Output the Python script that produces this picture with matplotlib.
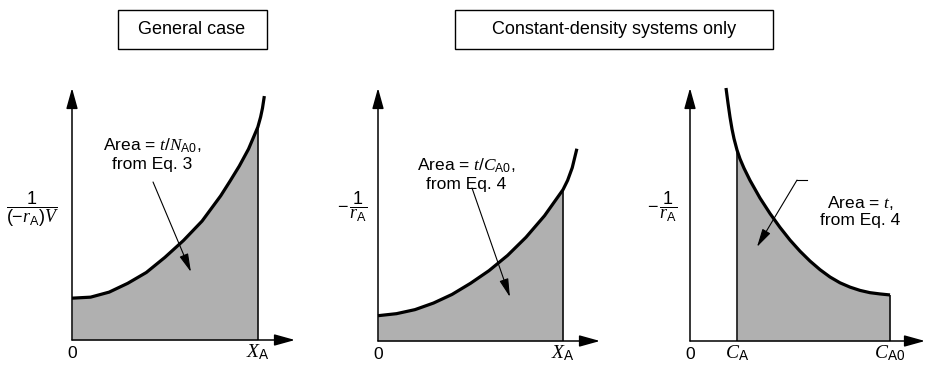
import matplotlib.pyplot as plt
from matplotlib.patches import Rectangle

plt.rcParams['font.family'] = ['Liberation Sans', 'DejaVu Sans']
plt.rcParams['mathtext.fontset'] = 'custom'
plt.rcParams['mathtext.rm'] = 'Liberation Sans'
plt.rcParams['mathtext.it'] = 'Liberation Serif:italic'
plt.rcParams['mathtext.bf'] = 'Liberation Sans:bold'

# Curve points
x_general = [0, 0.1, 0.2, 0.3, 0.4, 0.5, 0.6, 0.7, 0.8, 0.85, 0.9, 0.95, 1.0, 1.015, 1.025, 1.035]
y_general = [0.166, 0.17, 0.19, 0.225, 0.268, 0.328, 0.395, 0.472, 0.572, 0.63, 0.69, 0.758, 0.845,
             0.885, 0.92, 0.968]
xa_general = 1.0

x_const = [0, 0.1, 0.2, 0.3, 0.4, 0.5, 0.6, 0.7, 0.8, 0.9, 1.0, 1.025, 1.05, 1.075]
y_const = [0.1, 0.108, 0.124, 0.15, 0.184, 0.228, 0.278, 0.338, 0.41, 0.495, 0.598, 0.635, 0.685, 0.76]
xa_const = 1.0

x_conc = [0.18, 0.19, 0.2, 0.21, 0.22, 0.235, 0.25, 0.27, 0.3, 0.35, 0.4, 0.45, 0.5, 0.55, 0.6,
          0.65, 0.7, 0.75, 0.8, 0.85, 0.9, 0.95, 1.0]
y_conc = [1.0, 0.94, 0.885, 0.838, 0.8, 0.755, 0.72, 0.683, 0.635, 0.565, 0.504, 0.449, 0.399,
          0.355, 0.316, 0.282, 0.253, 0.23, 0.213, 0.2, 0.191, 0.186, 0.182]
ca_conc = 0.235
ca0_conc = 1.0

fill_color = '#b0b0b0'
fs_text = 12.5
fs_sym = 14
base_y = -0.07  # baseline of the x-axis labels

fig = plt.figure(figsize=(9.3, 3.68), dpi=100)

# Header boxes
fig.add_artist(Rectangle((118 / 930, 1 - 49 / 368), 149 / 930, 39 / 368,
                         transform=fig.transFigure, fill=False, lw=1.0, ec='black'))
fig.text(192 / 930, 1 - 30 / 368, 'General case', ha='center', va='center', fontsize=13)
fig.add_artist(Rectangle((455 / 930, 1 - 49 / 368), 318 / 930, 39 / 368,
                         transform=fig.transFigure, fill=False, lw=1.0, ec='black'))
fig.text(614 / 930, 1 - 30 / 368, 'Constant-density systems only', ha='center', va='center', fontsize=13)


def draw_axes(ax, xmax):
    ax.set_xlim(0, xmax)
    ax.set_ylim(0, 1)
    ax.axis('off')
    arrow = dict(arrowstyle='-|>,head_length=0.9,head_width=0.25', color='black', lw=1.1,
                 mutation_scale=14, shrinkA=0, shrinkB=0)
    ax.annotate('', xy=(xmax, 0), xytext=(0, 0), arrowprops=arrow, annotation_clip=False)
    ax.annotate('', xy=(0, 1), xytext=(0, 0), arrowprops=arrow, annotation_clip=False)


def pointer(ax, start, end):
    ax.annotate('', xy=end, xytext=start, annotation_clip=False,
                arrowprops=dict(arrowstyle='-|>,head_length=0.8,head_width=0.2', color='black',
                                lw=0.8, mutation_scale=14, shrinkA=0, shrinkB=0))


# Panel 1: general case
ax1 = fig.add_axes([72 / 930, 28 / 368, 223 / 930, 252 / 368])
draw_axes(ax1, 1.2)
xs = [x for x in x_general if x <= xa_general]
ax1.fill_between(xs, 0, y_general[:len(xs)], color=fill_color, lw=0)
ax1.vlines(xa_general, 0, y_general[len(xs) - 1], color='black', lw=1.1)
ax1.plot(x_general, y_general, color='black', lw=2.3, solid_capstyle='butt', clip_on=False)
ax1.text(0, base_y, '0', ha='center', va='baseline', fontsize=fs_text)
ax1.text(xa_general, base_y, r'$X_{\mathrm{A}}$', ha='center', va='baseline', fontsize=fs_sym)
ax1.text(-0.21, 0.52, r'$\dfrac{1}{(-r_{\mathrm{A}})V}$', ha='center', va='center', fontsize=13)
ax1.text(0.43, 0.738, 'Area = $t/N_{\\mathrm{A0}}$,\nfrom Eq. 3', ha='center', va='center',
         fontsize=fs_text, linespacing=1.15)
pointer(ax1, (0.436, 0.627), (0.64, 0.27))

# Panel 2: constant density, vs conversion
ax2 = fig.add_axes([378 / 930, 27 / 368, 222 / 930, 253 / 368])
draw_axes(ax2, 1.2)
xs = [x for x in x_const if x <= xa_const]
ax2.fill_between(xs, 0, y_const[:len(xs)], color=fill_color, lw=0)
ax2.vlines(xa_const, 0, y_const[len(xs) - 1], color='black', lw=1.1)
ax2.plot(x_const, y_const, color='black', lw=2.3, solid_capstyle='butt', clip_on=False)
ax2.text(0, base_y, '0', ha='center', va='baseline', fontsize=fs_text)
ax2.text(xa_const, base_y, r'$X_{\mathrm{A}}$', ha='center', va='baseline', fontsize=fs_sym)
ax2.text(-0.14, 0.53, r'$-\,\dfrac{1}{r_{\mathrm{A}}}$', ha='center', va='center', fontsize=13)
ax2.text(0.475, 0.66, 'Area = $t/C_{\\mathrm{A0}}$,\nfrom Eq. 4', ha='center', va='center',
         fontsize=fs_text, linespacing=1.15)
pointer(ax2, (0.508, 0.605), (0.713, 0.174))

# Panel 3: constant density, vs concentration
ax3 = fig.add_axes([690 / 930, 27 / 368, 235 / 930, 253 / 368])
draw_axes(ax3, 1.175)
i0 = x_conc.index(ca_conc)
ax3.fill_between(x_conc[i0:], 0, y_conc[i0:], color=fill_color, lw=0)
ax3.vlines([ca_conc, ca0_conc], 0, [y_conc[i0], y_conc[-1]], color='black', lw=1.1)
ax3.plot(x_conc, y_conc, color='black', lw=2.3, solid_capstyle='butt', clip_on=False)
ax3.text(0, base_y, '0', ha='center', va='baseline', fontsize=fs_text)
ax3.text(ca_conc, base_y, r'$C_{\mathrm{A}}$', ha='center', va='baseline', fontsize=fs_sym)
ax3.text(ca0_conc, base_y, r'$C_{\mathrm{A0}}$', ha='center', va='baseline', fontsize=fs_sym)
ax3.text(-0.14, 0.53, r'$-\,\dfrac{1}{r_{\mathrm{A}}}$', ha='center', va='center', fontsize=13)
ax3.text(0.85, 0.514, 'Area = $t$,\nfrom Eq. 4', ha='center', va='center',
         fontsize=fs_text, linespacing=1.15)
ax3.plot([0.585, 0.535], [0.636, 0.636], color='black', lw=0.8)
pointer(ax3, (0.535, 0.636), (0.335, 0.372))

fig.savefig('out.png', dpi=100)
